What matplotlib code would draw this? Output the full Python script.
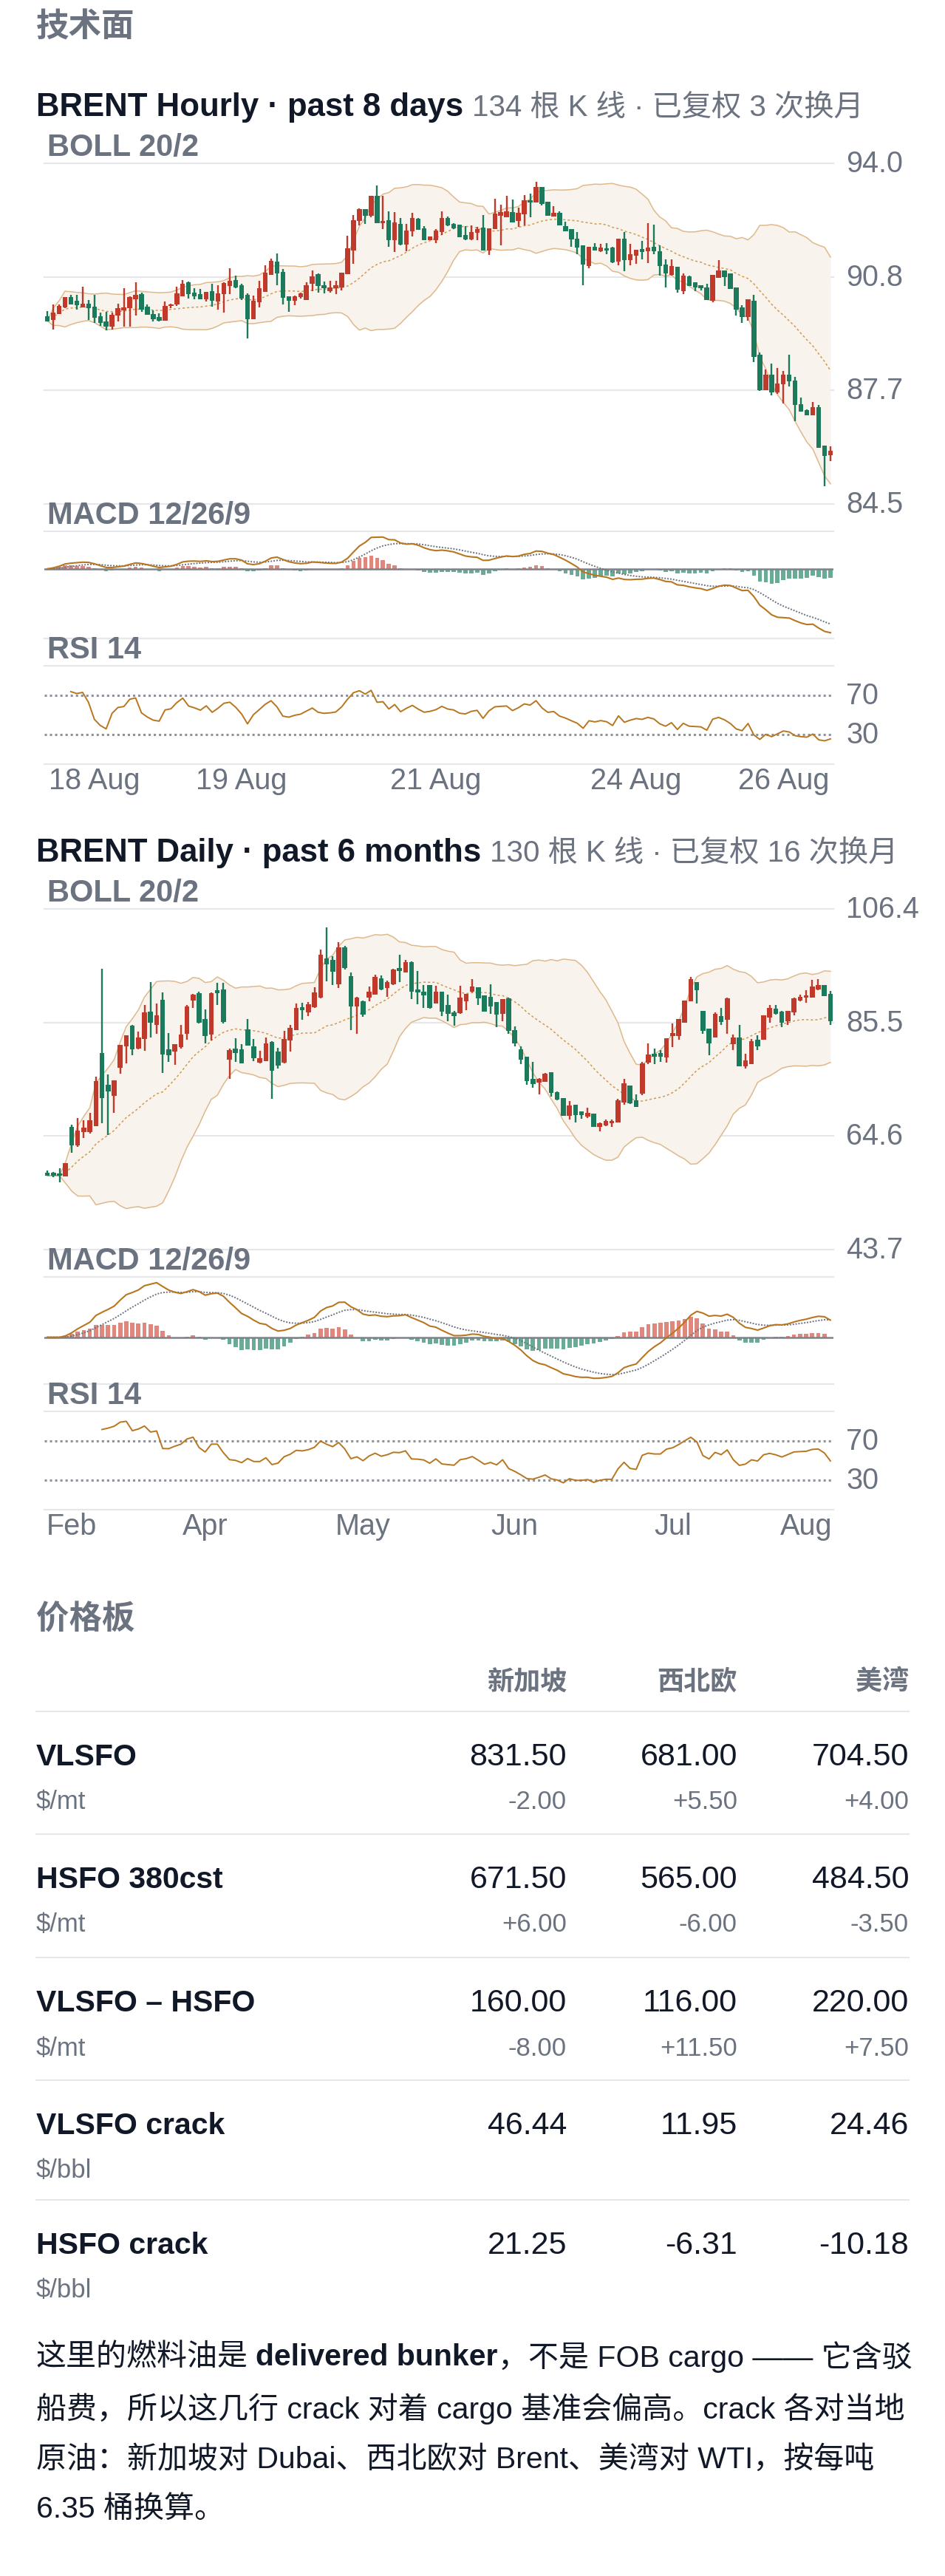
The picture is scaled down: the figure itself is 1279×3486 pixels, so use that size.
import numpy as np
import pandas as pd
import matplotlib
matplotlib.use('Agg')
import matplotlib.pyplot as plt

# ---- hourly BRENT, 134 bars (open, high, low, close) ----
h_open = [89.74, 89.63, 89.80, 89.98, 90.27, 90.16, 89.99, 90.09, 90.01, 89.74,
          89.59, 89.44, 89.75, 89.89, 89.96, 90.20, 90.35, 90.00, 89.80, 89.72,
          89.61, 90.02, 90.06, 90.30, 90.68, 90.40, 90.35, 90.20, 90.44, 90.15,
          90.35, 90.58, 90.75, 90.60, 90.33, 89.65, 90.13, 90.42, 90.88, 91.26,
          90.97, 90.30, 90.16, 90.28, 90.18, 90.64, 90.90, 90.59, 90.44, 90.51,
          90.53, 90.91, 91.57, 92.40, 92.72, 92.54, 93.10, 92.33, 92.42, 91.85,
          92.32, 91.73, 92.10, 92.45, 92.19, 91.86, 91.85, 92.09, 92.47, 92.32,
          92.28, 92.01, 91.87, 92.06, 92.21, 91.57, 92.16, 92.54, 92.50, 92.64,
          92.40, 92.57, 92.97, 92.90, 93.34, 92.92, 92.52, 92.61, 92.24, 92.17,
          91.90, 91.71, 91.14, 91.68, 91.54, 91.64, 91.66, 91.25, 91.90, 91.31,
          91.42, 91.61, 91.54, 91.68, 91.54, 91.17, 90.88, 91.11, 90.44, 90.85,
          90.68, 90.61, 90.53, 90.16, 90.80, 91.01, 90.92, 90.54, 89.98, 89.72,
          90.16, 88.67, 87.68, 88.10, 87.62, 87.83, 88.10, 87.95, 87.29, 87.11,
          86.98, 87.20, 86.12, 85.86]
h_high = [89.87, 90.06, 90.07, 90.28, 90.33, 90.33, 90.55, 90.18, 90.33, 89.84,
          89.85, 89.84, 90.09, 90.51, 90.30, 90.69, 90.39, 90.07, 89.89, 89.82,
          90.14, 90.09, 90.55, 90.75, 90.71, 90.51, 90.49, 90.42, 90.64, 90.59,
          90.68, 91.07, 90.87, 90.64, 90.37, 90.32, 90.73, 91.15, 91.35, 91.49,
          91.06, 90.30, 90.32, 90.40, 90.69, 91.02, 90.92, 90.71, 90.73, 90.73,
          90.95, 91.99, 92.56, 92.74, 92.72, 93.10, 93.38, 93.10, 92.67, 92.63,
          92.48, 92.30, 92.62, 92.47, 92.24, 91.95, 92.17, 92.67, 92.52, 92.33,
          92.28, 92.24, 92.26, 92.23, 92.55, 92.19, 93.02, 92.85, 93.09, 93.00,
          92.76, 93.12, 93.16, 93.49, 93.34, 92.92, 92.81, 92.66, 92.38, 92.17,
          92.08, 91.71, 91.68, 91.77, 91.76, 91.78, 91.68, 91.90, 92.09, 91.76,
          91.59, 91.83, 92.33, 92.28, 91.71, 91.33, 91.32, 91.11, 90.92, 90.87,
          90.68, 90.61, 90.64, 90.89, 91.30, 91.01, 90.92, 90.54, 90.05, 90.20,
          90.33, 88.72, 88.25, 88.41, 88.29, 88.21, 88.67, 88.04, 87.46, 87.13,
          87.35, 87.27, 86.12, 86.10]
h_low = [89.60, 89.37, 89.80, 89.96, 90.06, 89.91, 89.99, 89.63, 89.54, 89.46,
         89.34, 89.37, 89.60, 89.44, 89.44, 89.75, 89.85, 89.77, 89.60, 89.60,
         89.61, 89.96, 90.02, 90.30, 90.23, 90.20, 90.20, 90.15, 90.01, 89.91,
         89.84, 90.35, 90.51, 90.18, 89.12, 89.65, 89.99, 90.42, 90.88, 90.61,
         90.06, 89.85, 90.05, 90.23, 90.18, 90.44, 90.40, 90.38, 90.40, 90.36,
         90.45, 90.91, 91.19, 92.26, 92.32, 92.50, 92.33, 92.16, 91.68, 91.53,
         91.71, 91.55, 91.97, 92.14, 91.86, 91.86, 91.78, 92.00, 92.24, 92.16,
         91.94, 91.85, 91.85, 91.85, 91.57, 91.44, 92.16, 91.71, 92.50, 92.36,
         92.23, 92.26, 92.50, 92.90, 92.83, 92.54, 92.52, 92.26, 92.10, 91.68,
         91.46, 90.61, 91.07, 91.57, 91.53, 91.46, 91.22, 91.16, 91.00, 91.16,
         91.19, 91.32, 91.21, 91.46, 90.86, 90.54, 90.86, 90.40, 90.36, 90.58,
         90.44, 90.45, 90.18, 90.13, 90.80, 90.58, 90.49, 89.75, 89.54, 89.61,
         88.46, 87.65, 87.68, 87.53, 87.58, 87.31, 87.77, 86.81, 87.07, 86.98,
         86.98, 86.07, 85.00, 85.69]
h_close = [89.60, 89.84, 90.02, 90.28, 90.07, 90.05, 90.08, 89.97, 89.69, 89.54,
           89.44, 89.78, 89.96, 89.99, 90.27, 90.33, 89.92, 89.77, 89.65, 89.61,
           90.02, 90.07, 90.37, 90.64, 90.36, 90.29, 90.20, 90.42, 90.16, 90.37,
           90.66, 90.73, 90.53, 90.23, 89.65, 90.16, 90.51, 90.94, 91.28, 90.92,
           90.25, 90.16, 90.30, 90.38, 90.61, 90.85, 90.58, 90.51, 90.54, 90.60,
           90.95, 91.62, 92.42, 92.72, 92.54, 93.10, 92.33, 92.40, 91.85, 92.35,
           91.73, 92.12, 92.47, 92.14, 91.86, 91.95, 92.12, 92.47, 92.26, 92.19,
           91.94, 91.88, 92.09, 92.17, 91.57, 92.19, 92.59, 92.64, 92.67, 92.36,
           92.61, 92.97, 92.90, 93.34, 92.87, 92.54, 92.61, 92.26, 92.10, 91.88,
           91.66, 91.17, 91.68, 91.57, 91.66, 91.56, 91.23, 91.90, 91.31, 91.47,
           91.59, 91.52, 91.66, 91.54, 91.14, 90.92, 91.13, 90.47, 90.87, 90.58,
           90.54, 90.51, 90.18, 90.89, 91.02, 90.82, 90.49, 89.92, 89.72, 90.20,
           88.61, 87.68, 88.10, 87.62, 87.86, 88.10, 87.93, 87.26, 87.07, 86.98,
           87.20, 86.07, 85.84, 85.98]
h_ylim = (84.5, 94.0)
h_tick_idx = [8, 33, 66, 100, 125]
h_tick_lbl = ['18 Aug', '19 Aug', '21 Aug', '24 Aug', '26 Aug']

# ---- daily BRENT, 130 bars ----
d_open = [57.85, 57.85, 57.76, 57.17, 66.23, 62.92, 65.33, 65.33, 66.46, 79.83,
          74.08, 71.99, 77.11, 81.10, 84.91, 80.74, 82.42, 87.54, 85.05, 89.67,
          80.51, 80.15, 80.97, 83.46, 89.49, 90.94, 86.09, 83.23, 91.39, 91.62,
          78.70, 80.74, 80.51, 84.23, 81.06, 78.16, 78.38, 81.87, 80.15, 78.16,
          82.24, 84.14, 88.31, 87.31, 88.31, 90.03, 97.29, 97.06, 92.53, 99.33,
          94.02, 88.45, 89.35, 90.12, 90.58, 93.66, 91.85, 92.53, 95.56, 94.66,
          96.61, 91.62, 91.17, 92.39, 89.04, 91.17, 88.67, 87.40, 87.22, 89.35,
          91.17, 91.94, 90.49, 90.26, 89.22, 87.09, 89.94, 84.05, 80.51, 79.24,
          75.07, 74.39, 74.53, 76.34, 72.72, 71.54, 68.36, 70.31, 69.18, 68.14,
          68.73, 66.23, 66.55, 66.91, 67.14, 70.77, 73.85, 71.22, 72.35, 78.16,
          79.70, 79.83, 79.06, 83.01, 83.01, 85.50, 89.35, 92.98, 87.68, 84.37,
          82.69, 86.63, 85.95, 81.51, 82.78, 77.43, 77.79, 82.33, 82.33, 86.41,
          87.99, 87.54, 85.73, 87.40, 89.49, 90.03, 90.03, 91.62, 92.39, 90.71]
d_high = [58.21, 58.00, 58.67, 59.66, 66.69, 67.91, 67.46, 68.82, 75.53, 95.34,
          75.89, 74.85, 81.33, 83.10, 85.05, 83.78, 88.76, 92.98, 89.04, 91.03,
          83.60, 81.56, 85.05, 88.76, 90.71, 91.17, 87.90, 91.03, 92.84, 92.75,
          80.74, 82.55, 81.56, 86.18, 82.42, 80.29, 82.78, 82.10, 80.88, 83.91,
          85.05, 89.04, 89.13, 89.22, 91.94, 98.96, 103.04, 97.74, 100.23, 99.55,
          94.70, 90.26, 89.49, 92.07, 94.34, 94.11, 93.21, 95.38, 97.97, 97.06,
          96.74, 95.02, 92.39, 92.39, 92.30, 91.17, 90.58, 87.68, 92.30, 90.80,
          93.43, 91.94, 90.49, 92.53, 89.22, 89.81, 90.12, 84.82, 81.06, 79.24,
          78.25, 75.30, 76.21, 76.34, 72.81, 71.54, 70.99, 70.31, 69.18, 69.86,
          68.73, 67.14, 67.59, 67.68, 71.45, 75.16, 73.94, 72.26, 78.25, 81.65,
          80.74, 80.42, 82.55, 85.27, 86.18, 89.58, 93.89, 92.98, 87.68, 84.37,
          87.31, 88.13, 90.03, 83.32, 85.05, 79.74, 82.42, 83.14, 86.77, 88.76,
          88.76, 87.68, 87.68, 90.03, 90.58, 91.39, 93.30, 93.43, 92.39, 91.30]
d_low = [57.30, 57.03, 56.11, 57.17, 61.47, 62.61, 64.19, 65.10, 66.46, 66.91,
         64.78, 68.86, 76.07, 77.93, 79.52, 80.51, 80.29, 82.69, 83.46, 76.21,
         78.25, 77.66, 80.74, 82.33, 88.13, 85.27, 81.65, 82.24, 88.76, 85.27,
         75.07, 78.25, 78.02, 81.19, 78.38, 77.93, 78.38, 71.45, 76.98, 77.93,
         80.15, 84.14, 85.95, 86.63, 88.22, 89.94, 93.12, 92.39, 91.85, 95.25,
         84.14, 83.46, 86.54, 89.35, 90.58, 91.48, 90.26, 92.44, 92.98, 94.66,
         89.81, 88.90, 88.22, 88.08, 89.04, 86.63, 85.73, 84.96, 87.09, 87.77,
         91.03, 88.67, 87.45, 87.09, 84.59, 85.73, 83.46, 81.10, 77.79, 74.08,
         73.49, 72.26, 74.53, 71.90, 71.22, 68.36, 67.59, 67.14, 67.73, 67.91,
         66.23, 65.46, 66.46, 66.23, 67.14, 70.40, 70.54, 70.00, 72.13, 77.79,
         77.79, 78.25, 78.11, 80.97, 82.33, 85.50, 89.35, 89.04, 83.46, 79.52,
         82.69, 85.05, 83.46, 80.42, 77.43, 77.02, 77.79, 80.42, 82.33, 85.41,
         86.95, 84.68, 85.05, 86.77, 89.35, 89.13, 90.03, 91.48, 90.40, 85.05]
d_close = [57.30, 57.30, 57.30, 59.57, 62.92, 65.64, 66.09, 67.46, 74.71, 71.54,
           72.81, 74.85, 81.33, 83.10, 80.51, 82.78, 87.40, 85.41, 86.86, 79.61,
           79.52, 81.56, 83.23, 88.45, 90.58, 85.50, 83.01, 90.85, 90.85, 85.59,
           80.42, 79.83, 78.02, 81.19, 78.93, 78.93, 81.65, 76.57, 77.57, 82.42,
           84.50, 88.13, 87.77, 88.90, 91.03, 97.97, 96.15, 94.79, 99.33, 95.47,
           88.45, 90.12, 86.95, 91.17, 93.89, 91.62, 92.98, 95.25, 95.02, 96.61,
           91.17, 91.03, 90.49, 88.22, 91.17, 87.54, 87.09, 86.63, 90.03, 90.71,
           92.07, 89.94, 87.45, 88.45, 87.00, 89.81, 83.91, 81.65, 78.61, 74.71,
           74.17, 75.07, 76.12, 72.58, 71.36, 68.36, 70.18, 68.50, 68.50, 68.82,
           66.23, 67.00, 67.37, 67.37, 71.22, 74.30, 70.63, 70.00, 78.02, 79.61,
           79.15, 79.15, 82.55, 83.55, 86.09, 89.58, 93.43, 91.39, 83.91, 81.65,
           87.09, 85.59, 89.94, 82.69, 77.43, 78.47, 82.10, 81.06, 86.77, 88.13,
           87.09, 85.50, 87.68, 89.94, 90.26, 90.49, 92.07, 92.39, 90.40, 85.73]
d_ylim = (43.7, 106.4)
d_tick_idx = [4, 26, 52, 77, 103, 125]
d_tick_lbl = ['Feb', 'Apr', 'May', 'Jun', 'Jul', 'Aug']

# ---- price board ----
regions = ['新加坡', '西北欧', '美湾']
products = ['VLSFO', 'HSFO 380cst', 'VLSFO – HSFO', 'VLSFO crack', 'HSFO crack']
units = ['$/mt', '$/mt', '$/mt', '$/bbl', '$/bbl']
prices = [[831.50, 681.00, 704.50],
          [671.50, 565.00, 484.50],
          [160.00, 116.00, 220.00],
          [46.44, 11.95, 24.46],
          [21.25, -6.31, -10.18]]
changes = [[-2.00, 5.50, 4.00],
           [6.00, -6.00, -3.50],
           [-8.00, 11.50, 7.50],
           None,
           None]

W, H, DPI = 1279, 3487, 100
FONT = ['Liberation Sans', 'Noto Sans CJK SC']
BLACK = '#111827'
GRAY = '#6b7280'
GRID = '#e5e7eb'
UP = '#c0392b'
DOWN = '#1b7a5b'
BAND_FILL = '#f8f3ec'
BAND_LINE = '#dfb98b'
MID_LINE = '#d19a4e'
MACD_C = '#b8761f'
SIG_C = '#6b7280'
HIST_UP = '#e0877d'
HIST_DN = '#6aab96'

plt.rcParams['font.family'] = FONT

fig = plt.figure(figsize=(W / DPI, H / DPI), dpi=DPI)
renderer = fig.canvas.get_renderer()

X0, X1 = 60, 1128


def px_axes(y0, y1):
    ax = fig.add_axes([X0 / W, 1 - y1 / H, (X1 - X0) / W, (y1 - y0) / H])
    ax.set_xticks([])
    ax.set_yticks([])
    for s in ax.spines.values():
        s.set_visible(False)
    return ax


def ftext(x, y, s, **kw):
    return fig.text(x / W, 1 - y / H, s, **kw)


def boll(c, n=20, k=2):
    s = pd.Series(c)
    mid = s.rolling(n, min_periods=1).mean()
    sd = s.rolling(n, min_periods=1).std(ddof=0)
    return mid, mid + k * sd, mid - k * sd


def macd(c, fast=12, slow=26, sig=9):
    s = pd.Series(c)
    dif = s.ewm(span=fast, adjust=False).mean() - s.ewm(span=slow, adjust=False).mean()
    dea = dif.ewm(span=sig, adjust=False).mean()
    return dif, dea, dif - dea


def rsi(c, n=14):
    d = pd.Series(c).diff().fillna(0)
    up = d.clip(lower=0).ewm(alpha=1 / n, adjust=False).mean()
    dn = (-d.clip(upper=0)).ewm(alpha=1 / n, adjust=False).mean()
    return 100 - 100 / (1 + up / dn.replace(0, np.nan))


def price_panel(y0, y1, o, h, l, c, ylim):
    o, h, l, c = map(np.asarray, (o, h, l, c))
    n = len(c)
    x = np.arange(n)
    ax = px_axes(y0, y1)
    ax.set_xlim(-0.5, n - 0.5)
    ax.set_ylim(*ylim)
    ticks = np.linspace(ylim[0], ylim[1], 4)
    for t in ticks:
        ax.axhline(t, color=GRID, lw=1.5, zorder=0, clip_on=False)
        ax.text(1.016, t, f'{t:.1f}', transform=ax.get_yaxis_transform(),
                ha='left', va='center', fontsize=28.5, color=GRAY)
    mid, up, dn = boll(c)
    ax.fill_between(x, dn, up, color=BAND_FILL, lw=0, zorder=1)
    ax.plot(x, up, color=BAND_LINE, lw=1.1, zorder=2)
    ax.plot(x, dn, color=BAND_LINE, lw=1.1, zorder=2)
    ax.plot(x, mid, color=MID_LINE, lw=1.1, ls=(0, (2, 2)), zorder=2)
    col = np.where(c >= o, UP, DOWN)
    ax.vlines(x, l, h, colors=col, lw=1.7, zorder=3)
    rng = ylim[1] - ylim[0]
    body = np.maximum(np.abs(c - o), rng * 0.004)
    ax.bar(x, body, bottom=np.minimum(o, c), width=0.8, color=col, lw=0, zorder=4)
    return ax


def macd_panel(y0, y1, c):
    n = len(c)
    x = np.arange(n)
    ax = px_axes(y0, y1)
    dif, dea, hist = macd(c)
    allv = np.concatenate([dif, dea, hist])
    lo, hi = allv.min(), allv.max()
    pad = (hi - lo) * 0.06
    ax.set_xlim(-0.5, n - 0.5)
    ax.set_ylim(lo - pad, hi + pad)
    ax.axhline(hi + pad, color=GRID, lw=1.5, clip_on=False)
    ax.axhline(lo - pad, color=GRID, lw=1.5, clip_on=False)
    ax.bar(x, hist, width=0.7, color=np.where(hist >= 0, HIST_UP, HIST_DN), lw=0, zorder=2)
    ax.axhline(0, color='#7c818c', lw=1.8, zorder=3)
    ax.plot(x, dea, color=SIG_C, lw=1.4, ls=(0, (1, 1)), zorder=4)
    ax.plot(x, dif, color=MACD_C, lw=1.5, zorder=5)
    return ax


def rsi_panel(y0, y1, c, tick_idx, tick_lbl):
    n = len(c)
    x = np.arange(n)
    ax = px_axes(y0, y1)
    ax.set_xlim(-0.5, n - 0.5)
    ax.set_ylim(0, 100)
    ax.axhline(100, color=GRID, lw=1.5, clip_on=False)
    ax.axhline(0, color=GRID, lw=1.5, clip_on=False)
    for lv in (70, 30):
        ax.axhline(lv, color='#8d929c', lw=2.2, ls=(0, (1, 1.3)), zorder=1)
        ax.text(1.016, lv, str(lv), transform=ax.get_yaxis_transform(),
                ha='left', va='center', fontsize=28.5, color=GRAY)
    ax.plot(x, rsi(c), color=MACD_C, lw=1.4, zorder=3)
    lab_y = -22 / (y1 - y0)
    for i, s in zip(tick_idx, tick_lbl):
        ax.text(i, lab_y, s, transform=ax.get_xaxis_transform(),
                ha='center', va='center', fontsize=28.5, color=GRAY)
    return ax


def title_line(y, bold_txt, sub_txt, gap):
    t = ftext(49, y, bold_txt, fontsize=31.5, fontweight='bold', color=BLACK, va='baseline')
    w = t.get_window_extent(renderer=renderer).width
    ftext(49 + w + gap, y, sub_txt, fontsize=29, color=GRAY, va='baseline')


def chart_block(top, o, h, l, c, ylim, tick_idx, tick_lbl, title, sub):
    # top = y of the price panel top gridline
    title_line(top - 65, title, sub, 12)
    lab = dict(fontsize=30, fontweight='bold', color=GRAY, va='center')
    ftext(64, top - 22, 'BOLL 20/2', **lab)
    price_panel(top, top + 461, o, h, l, c, ylim)
    ftext(64, top + 476, 'MACD 12/26/9', **lab)
    macd_panel(top + 498, top + 643, c)
    ftext(64, top + 658, 'RSI 14', **lab)
    rsi_panel(top + 680, top + 813, c, tick_idx, tick_lbl)


def rich_line(x, y, parts, size):
    for s, weight in parts:
        if s == ' ':
            x += size * 0.35
            continue
        t = ftext(x, y, s, fontsize=size, fontweight=weight, color=BLACK, va='center')
        x += t.get_window_extent(renderer=renderer).width


def main():
    ftext(49, 38, '技术面', fontsize=32, fontweight='bold', color=GRAY, va='center')
    chart_block(222, h_open, h_high, h_low, h_close, h_ylim, h_tick_idx, h_tick_lbl,
                'BRENT Hourly · past 8 days', '134 根 K 线 · 已复权 3 次换月')
    chart_block(1231, d_open, d_high, d_low, d_close, d_ylim, d_tick_idx, d_tick_lbl,
                'BRENT Daily · past 6 months', '130 根 K 线 · 已复权 16 次换月')

    # price board
    ftext(49, 2192, '价格板', fontsize=32, fontweight='bold', color=GRAY, va='center')
    col_x = [767, 998, 1230]
    for cx, r in zip(col_x, regions):
        ftext(cx, 2277, r, fontsize=26, fontweight='bold', color=GRAY, ha='right', va='center')
    lines_y = [2317, 2483, 2650, 2816, 2978]
    for k, ly in enumerate(lines_y):
        fig.add_artist(plt.Line2D([49 / W, 1230 / W], [1 - ly / H, 1 - ly / H],
                                  color=GRID, lw=1.5))
        ftext(49, ly + 61, products[k], fontsize=29.5, fontweight='bold', color=BLACK, va='center')
        ftext(49, ly + 122, units[k], fontsize=25, color=GRAY, va='center')
        for j, cx in enumerate(col_x):
            ftext(cx, ly + 61, f'{prices[k][j]:.2f}', fontsize=31, color=BLACK,
                  ha='right', va='center')
            if changes[k] is not None:
                ftext(cx, ly + 122, f'{changes[k][j]:+.2f}', fontsize=25, color=GRAY,
                      ha='right', va='center')

    # footnote
    fs = 29.5
    rich_line(49, 3190, [('这里的燃料油是', 'normal'), (' ', None),
                         ('delivered bunker', 'bold'),
                         ('，不是 FOB cargo —— 它含驳', 'normal')], fs)
    rich_line(49, 3260, [('船费，所以这几行 crack 对着 cargo 基准会偏高。crack 各对当地', 'normal')], fs)
    rich_line(49, 3329, [('原油：新加坡对 Dubai、西北欧对 Brent、美湾对 WTI，按每吨', 'normal')], fs)
    rich_line(49, 3396, [('6.35 桶换算。', 'normal')], fs)

    fig.savefig('out.png', dpi=DPI, facecolor='white')


if __name__ == '__main__':
    main()
